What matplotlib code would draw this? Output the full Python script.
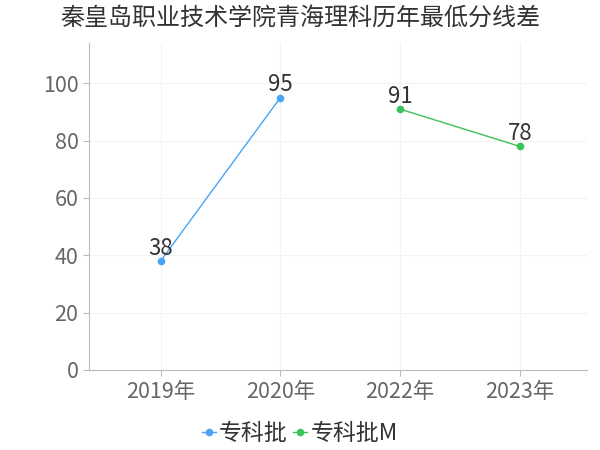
import matplotlib
matplotlib.use("Agg")
import matplotlib.pyplot as plt
from matplotlib.lines import Line2D

plt.rcParams['font.family'] = ['Noto Sans CJK SC', 'DejaVu Sans']

title = "秦皇岛职业技术学院青海理科历年最低分线差"
years = ["2019年", "2020年", "2022年", "2023年"]
zk_x = [0, 1]
zk_vals = [38, 95]
zkm_x = [2, 3]
zkm_vals = [91, 78]
series_names = ["专科批", "专科批M"]
yticks = [0, 20, 40, 60, 80, 100]

blue = '#4aa3f5'
green = '#3cc259'

fig = plt.figure(figsize=(6, 4.5), dpi=100)
ax = fig.add_axes([0.148, 0.178, 0.83, 0.726])

ax.plot(zk_x, zk_vals, color=blue, lw=1, marker='o', ms=4.5, zorder=3)
ax.plot(zkm_x, zkm_vals, color=green, lw=1, marker='o', ms=4.5, zorder=3)
for x, v in zip(zk_x, zk_vals):
    ax.text(x, v + 0.5, str(v), ha='center', va='bottom', fontsize=16, color='#333333')
for x, v in zip(zkm_x, zkm_vals):
    ax.text(x, v + 0.5, str(v), ha='center', va='bottom', fontsize=16, color='#333333')

ax.set_xlim(-0.6, 3.56)
ax.set_ylim(0, 114)
ax.set_xticks(range(len(years)))
ax.set_xticklabels(years)
ax.set_yticks(yticks)
ax.grid(True, color='#f3f3f3', lw=0.8)
ax.set_axisbelow(True)
for s in ['top', 'right']:
    ax.spines[s].set_visible(False)
for s in ['left', 'bottom']:
    ax.spines[s].set_color('#bbbbbb')
ax.tick_params(axis='both', colors='#bbbbbb', labelcolor='#666666', labelsize=15.5, length=4)
ax.tick_params(axis='x', pad=4)

fig.suptitle(title, y=0.99, fontsize=17.3, color='#333333')

handles = [Line2D([], [], color=blue, marker='o', ms=4.5, lw=1),
           Line2D([], [], color=green, marker='o', ms=4.5, lw=1)]
fig.legend(handles, series_names, loc='lower center', bbox_to_anchor=(0.5, -0.035), ncol=2,
           frameon=False, fontsize=16.5, handlelength=0.6, handletextpad=0.15, columnspacing=0.25,
           labelcolor='#333333')

fig.savefig('out.png', dpi=100)
